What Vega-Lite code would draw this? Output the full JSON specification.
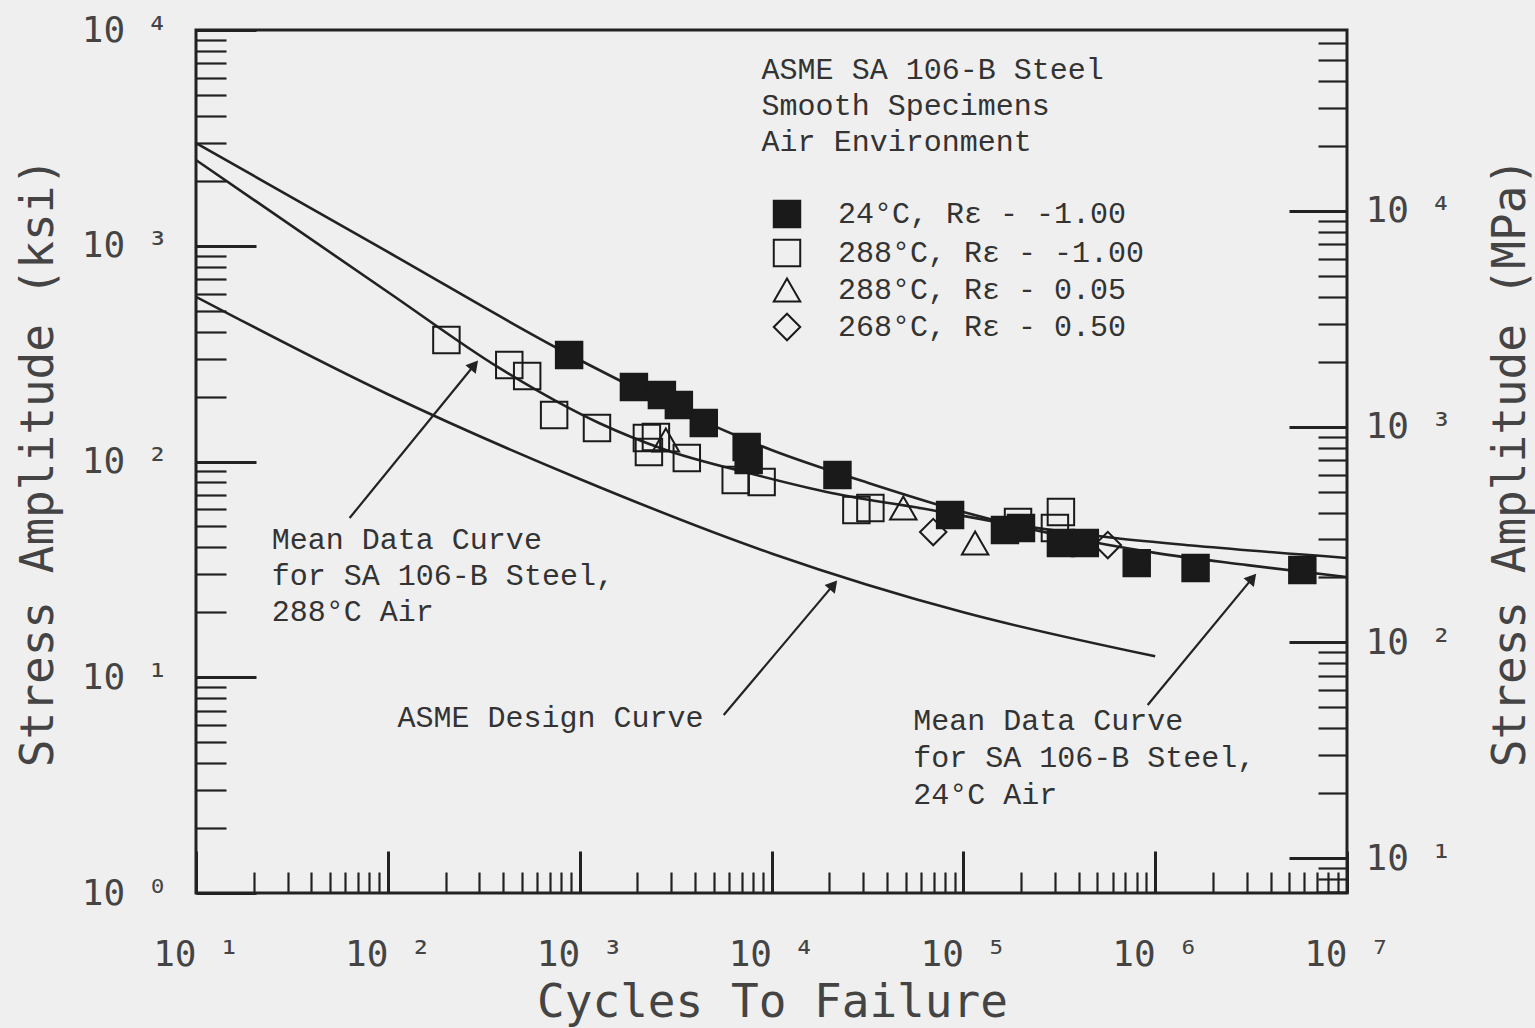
{
  "$schema": "https://vega.github.io/schema/vega-lite/v6.json",
  "width": 1151,
  "height": 863,
  "autosize": {"type": "none"},
  "padding": {"left": 196, "top": 30, "right": 188, "bottom": 135},
  "background": "#efefef",
  "config": {
    "view": {"stroke": "#222222", "strokeWidth": 3},
    "axis": {
      "grid": false,
      "domain": false,
      "labelFont": "DejaVu Sans Mono",
      "labelFontSize": 36,
      "labelColor": "#444444",
      "titleFont": "DejaVu Sans Mono",
      "titleFontSize": 46,
      "titleFontWeight": "normal",
      "titleColor": "#444444",
      "tickColor": "#222222",
      "labelOverlap": false,
      "labelFlush": false,
      "labelBound": false
    }
  },
  "datasets": {
    "points": [
      {"series": "24°C,  Rε - -1.00", "cycles": 881, "ksi": 311.6},
      {"series": "24°C,  Rε - -1.00", "cycles": 1918, "ksi": 221.4},
      {"series": "24°C,  Rε - -1.00", "cycles": 2683, "ksi": 203.3},
      {"series": "24°C,  Rε - -1.00", "cycles": 3289, "ksi": 182.8},
      {"series": "24°C,  Rε - -1.00", "cycles": 4436, "ksi": 150.8},
      {"series": "24°C,  Rε - -1.00", "cycles": 7421, "ksi": 116.8},
      {"series": "24°C,  Rε - -1.00", "cycles": 7603, "ksi": 101.6},
      {"series": "24°C,  Rε - -1.00", "cycles": 22070, "ksi": 86.6},
      {"series": "24°C,  Rε - -1.00", "cycles": 85310, "ksi": 56.5},
      {"series": "24°C,  Rε - -1.00", "cycles": 164800, "ksi": 48.1},
      {"series": "24°C,  Rε - -1.00", "cycles": 199800, "ksi": 49.2},
      {"series": "24°C,  Rε - -1.00", "cycles": 322600, "ksi": 41.9},
      {"series": "24°C,  Rε - -1.00", "cycles": 429900, "ksi": 41.9},
      {"series": "24°C,  Rε - -1.00", "cycles": 801400, "ksi": 33.8},
      {"series": "24°C,  Rε - -1.00", "cycles": 1624000, "ksi": 32.1},
      {"series": "24°C,  Rε - -1.00", "cycles": 5850000, "ksi": 31.4},
      {"series": "288°C, Rε - -1.00", "cycles": 202, "ksi": 365.8},
      {"series": "288°C, Rε - -1.00", "cycles": 429.6, "ksi": 280.1},
      {"series": "288°C, Rε - -1.00", "cycles": 532.6, "ksi": 249.0},
      {"series": "288°C, Rε - -1.00", "cycles": 736, "ksi": 164.3},
      {"series": "288°C, Rε - -1.00", "cycles": 1231, "ksi": 143.0},
      {"series": "288°C, Rε - -1.00", "cycles": 2241, "ksi": 128.5},
      {"series": "288°C, Rε - -1.00", "cycles": 2296, "ksi": 110.7},
      {"series": "288°C, Rε - -1.00", "cycles": 2497, "ksi": 129.9},
      {"series": "288°C, Rε - -1.00", "cycles": 3618, "ksi": 103.8},
      {"series": "288°C, Rε - -1.00", "cycles": 6507, "ksi": 82.1},
      {"series": "288°C, Rε - -1.00", "cycles": 8881, "ksi": 80.4},
      {"series": "288°C, Rε - -1.00", "cycles": 27700, "ksi": 59.6},
      {"series": "288°C, Rε - -1.00", "cycles": 32770, "ksi": 60.9},
      {"series": "288°C, Rε - -1.00", "cycles": 192800, "ksi": 52.4},
      {"series": "288°C, Rε - -1.00", "cycles": 322600, "ksi": 58.3},
      {"series": "288°C, Rε - -1.00", "cycles": 300200, "ksi": 49.2},
      {"series": "288°C, Rε - 0.05", "cycles": 2813, "ksi": 125.8},
      {"series": "288°C, Rε - 0.05", "cycles": 48640, "ksi": 60.9},
      {"series": "288°C, Rε - 0.05", "cycles": 115200, "ksi": 41.9},
      {"series": "268°C, Rε - 0.50", "cycles": 69660, "ksi": 47.1},
      {"series": "268°C, Rε - 0.50", "cycles": 566200, "ksi": 41.0}
    ],
    "curves": [
      {"curve": "mean24", "cycles": 10, "ksi": 2993},
      {"curve": "mean24", "cycles": 100, "ksi": 935.6},
      {"curve": "mean24", "cycles": 1000, "ksi": 295.4},
      {"curve": "mean24", "cycles": 10000, "ksi": 113.1},
      {"curve": "mean24", "cycles": 31990, "ksi": 79.5},
      {"curve": "mean24", "cycles": 100000, "ksi": 58.3},
      {"curve": "mean24", "cycles": 311200, "ksi": 45.6},
      {"curve": "mean24", "cycles": 1000000, "ksi": 37.7},
      {"curve": "mean24", "cycles": 3030000, "ksi": 33.1},
      {"curve": "mean24", "cycles": 10000000, "ksi": 29.1},
      {"curve": "mean288", "cycles": 10, "ksi": 2496},
      {"curve": "mean288", "cycles": 100, "ksi": 610.3},
      {"curve": "mean288", "cycles": 380.9, "ksi": 271.3},
      {"curve": "mean288", "cycles": 1261, "ksi": 150.8},
      {"curve": "mean288", "cycles": 2813, "ksi": 113.1},
      {"curve": "mean288", "cycles": 7602, "ksi": 88.4},
      {"curve": "mean288", "cycles": 20540, "ksi": 71.5},
      {"curve": "mean288", "cycles": 68020, "ksi": 59.6},
      {"curve": "mean288", "cycles": 151700, "ksi": 52.4},
      {"curve": "mean288", "cycles": 615800, "ksi": 44.2},
      {"curve": "mean288", "cycles": 1663000, "ksi": 40.6},
      {"curve": "mean288", "cycles": 10000000, "ksi": 35.7},
      {"curve": "design", "cycles": 10, "ksi": 580},
      {"curve": "design", "cycles": 100, "ksi": 205},
      {"curve": "design", "cycles": 1000, "ksi": 83},
      {"curve": "design", "cycles": 10000, "ksi": 37.5},
      {"curve": "design", "cycles": 100000, "ksi": 20},
      {"curve": "design", "cycles": 1000000, "ksi": 12.5}
    ],
    "notes": [
      {"label": "ASME SA 106-B Steel", "cycles": 8881, "ksi": 6525},
      {"label": "Smooth Specimens", "cycles": 8881, "ksi": 4443},
      {"label": "Air Environment", "cycles": 8881, "ksi": 3026},
      {"label": "Mean Data Curve", "cycles": 24.85, "ksi": 43.3},
      {"label": "for SA 106-B Steel,", "cycles": 24.85, "ksi": 29.5},
      {"label": "288°C Air", "cycles": 24.85, "ksi": 20.07},
      {"label": "ASME Design Curve", "cycles": 112.3, "ksi": 6.47},
      {"label": "Mean Data Curve", "cycles": 54830, "ksi": 6.27},
      {"label": "for SA 106-B Steel,", "cycles": 54830, "ksi": 4.22},
      {"label": "24°C Air", "cycles": 54830, "ksi": 2.85}
    ],
    "arrows": [
      {"cycles": 63.2, "ksi": 54.7, "cycles2": 282.4, "ksi2": 280.1},
      {"cycles": 5635, "ksi": 6.68, "cycles2": 21030, "ksi2": 26.8},
      {"cycles": 914100, "ksi": 7.44, "cycles2": 3214000, "ksi2": 28.8}
    ]
  },
  "layer": [
    {
      "encoding": {
        "x": {
          "field": "cycles",
          "type": "quantitative",
          "scale": {"type": "log", "domain": [10, 10000000], "nice": false},
          "axis": {
            "orient": "bottom",
            "title": "Cycles To Failure",
            "titleX": 576,
            "titleY": 123,
            "titleBaseline": "alphabetic",
            "titleAlign": "center",
            "values": [10, 20, 30, 40, 50, 60, 70, 80, 90, 100, 200, 300, 400, 500, 600, 700, 800, 900, 1000, 2000, 3000, 4000, 5000, 6000, 7000, 8000, 9000, 10000, 20000, 30000, 40000, 50000, 60000, 70000, 80000, 90000, 100000, 200000, 300000, 400000, 500000, 600000, 700000, 800000, 900000, 1000000, 2000000, 3000000, 4000000, 5000000, 6000000, 7000000, 8000000, 9000000, 10000000],
            "tickSize": {"condition": {"test": "abs(log(datum.value)/LN10 - round(log(datum.value)/LN10)) < 0.01", "value": -42}, "value": -21},
            "tickWidth": {"condition": {"test": "abs(log(datum.value)/LN10 - round(log(datum.value)/LN10)) < 0.01", "value": 3}, "value": 2.2},
            "labelExpr": "abs(log(datum.value)/LN10 - round(log(datum.value)/LN10)) < 0.01 ? '10 ' + ['⁰','¹','²','³','⁴','⁵','⁶','⁷'][round(log(datum.value)/LN10)] : ''",
            "labelPadding": 86,
            "labelAlign": "center",
            "labelBaseline": "top"
          }
        },
        "y": {
          "field": "ksi",
          "type": "quantitative",
          "scale": {"type": "log", "domain": [1, 10000], "nice": false},
          "axis": {
            "orient": "left",
            "title": "Stress Amplitude (ksi)",
            "titleX": -158,
            "titleY": 432,
            "titleAngle": 270,
            "titleAlign": "center",
            "titleBaseline": "middle",
            "values": [1, 2, 3, 4, 5, 6, 7, 8, 9, 10, 20, 30, 40, 50, 60, 70, 80, 90, 100, 200, 300, 400, 500, 600, 700, 800, 900, 1000, 2000, 3000, 4000, 5000, 6000, 7000, 8000, 9000, 10000],
            "tickSize": {"condition": {"test": "abs(log(datum.value)/LN10 - round(log(datum.value)/LN10)) < 0.01", "value": -60}, "value": -30},
            "tickWidth": {"condition": {"test": "abs(log(datum.value)/LN10 - round(log(datum.value)/LN10)) < 0.01", "value": 3}, "value": 2.2},
            "labelExpr": "abs(log(datum.value)/LN10 - round(log(datum.value)/LN10)) < 0.01 ? '10 ' + ['⁰','¹','²','³','⁴','⁵','⁶','⁷'][round(log(datum.value)/LN10)] : ''",
            "labelPadding": 88,
            "labelAlign": "right",
            "labelBaseline": "middle"
          }
        }
      },
      "layer": [
        {
          "data": {"name": "curves"},
          "mark": {"type": "line", "color": "#222222", "strokeWidth": 2.6, "interpolate": "monotone", "clip": true},
          "encoding": {"detail": {"field": "curve"}, "order": {"field": "cycles", "type": "quantitative"}}
        },
        {
          "data": {"name": "arrows"},
          "mark": {"type": "rule", "color": "#222222", "strokeWidth": 2.2},
          "encoding": {"x2": {"field": "cycles2"}, "y2": {"field": "ksi2"}}
        },
        {
          "data": {"name": "arrows"},
          "mark": {"type": "point", "shape": "triangle-up", "filled": true, "color": "#222222", "size": 180, "angle": 40, "opacity": 1},
          "encoding": {"x": {"field": "cycles2", "type": "quantitative"}, "y": {"field": "ksi2", "type": "quantitative"}}
        },
        {
          "data": {"name": "points"},
          "mark": {"type": "point", "filled": true, "size": 700, "strokeWidth": 2, "opacity": 1},
          "encoding": {
            "shape": {
              "field": "series",
              "type": "nominal",
              "scale": {"domain": ["24°C,  Rε - -1.00", "288°C, Rε - -1.00", "288°C, Rε - 0.05", "268°C, Rε - 0.50"], "range": ["square", "square", "triangle-up", "diamond"]},
              "legend": {
                "orient": "none",
                "legendX": 576,
                "legendY": 169,
                "title": null,
                "padding": 0,
                "labelFont": "Liberation Mono",
                "labelFontSize": 30,
                "labelColor": "#333333",
                "labelOffset": 36,
                "labelLimit": 0,
                "rowPadding": 3,
                "symbolSize": 700,
                "symbolStrokeWidth": 2
              }
            },
            "fill": {
              "field": "series",
              "type": "nominal",
              "scale": {"domain": ["24°C,  Rε - -1.00", "288°C, Rε - -1.00", "288°C, Rε - 0.05", "268°C, Rε - 0.50"], "range": ["#1a1a1a", "transparent", "transparent", "transparent"]},
              "legend": {
                "orient": "none",
                "legendX": 576,
                "legendY": 169,
                "title": null,
                "padding": 0,
                "labelFont": "Liberation Mono",
                "labelFontSize": 30,
                "labelColor": "#333333",
                "labelOffset": 36,
                "labelLimit": 0,
                "rowPadding": 3,
                "symbolSize": 700,
                "symbolStrokeWidth": 2
              }
            },
            "stroke": {
              "field": "series",
              "type": "nominal",
              "scale": {"domain": ["24°C,  Rε - -1.00", "288°C, Rε - -1.00", "288°C, Rε - 0.05", "268°C, Rε - 0.50"], "range": ["#1a1a1a", "#1a1a1a", "#1a1a1a", "#1a1a1a"]},
              "legend": {
                "orient": "none",
                "legendX": 576,
                "legendY": 169,
                "title": null,
                "padding": 0,
                "labelFont": "Liberation Mono",
                "labelFontSize": 30,
                "labelColor": "#333333",
                "labelOffset": 36,
                "labelLimit": 0,
                "rowPadding": 3,
                "symbolSize": 700,
                "symbolStrokeWidth": 2
              }
            }
          }
        },
        {
          "data": {"name": "notes"},
          "mark": {"type": "text", "font": "Liberation Mono", "fontSize": 30, "color": "#333333", "align": "left", "baseline": "middle"},
          "encoding": {"text": {"field": "label"}}
        }
      ]
    },
    {
      "data": {"values": [{}]},
      "mark": {"type": "point", "opacity": 0},
      "encoding": {
        "y": {
          "datum": 100,
          "type": "quantitative",
          "scale": {"type": "log", "domain": [6.89476, 68947.6], "nice": false},
          "axis": {
            "orient": "right",
            "title": "Stress Amplitude (MPa)",
            "titleX": 163,
            "titleY": 432,
            "titleAngle": 270,
            "titleAlign": "center",
            "titleBaseline": "middle",
            "values": [7, 8, 9, 10, 20, 30, 40, 50, 60, 70, 80, 90, 100, 200, 300, 400, 500, 600, 700, 800, 900, 1000, 2000, 3000, 4000, 5000, 6000, 7000, 8000, 9000, 10000, 20000, 30000, 40000, 50000, 60000],
            "tickSize": {"condition": {"test": "abs(log(datum.value)/LN10 - round(log(datum.value)/LN10)) < 0.01", "value": -58}, "value": -29},
            "tickWidth": {"condition": {"test": "abs(log(datum.value)/LN10 - round(log(datum.value)/LN10)) < 0.01", "value": 3}, "value": 2.2},
            "labelExpr": "abs(log(datum.value)/LN10 - round(log(datum.value)/LN10)) < 0.01 ? '10 ' + ['⁰','¹','²','³','⁴','⁵','⁶','⁷'][round(log(datum.value)/LN10)] : ''",
            "labelPadding": 76,
            "labelAlign": "left",
            "labelBaseline": "middle"
          }
        }
      }
    }
  ],
  "resolve": {"scale": {"y": "independent"}, "axis": {"y": "independent"}}
}
